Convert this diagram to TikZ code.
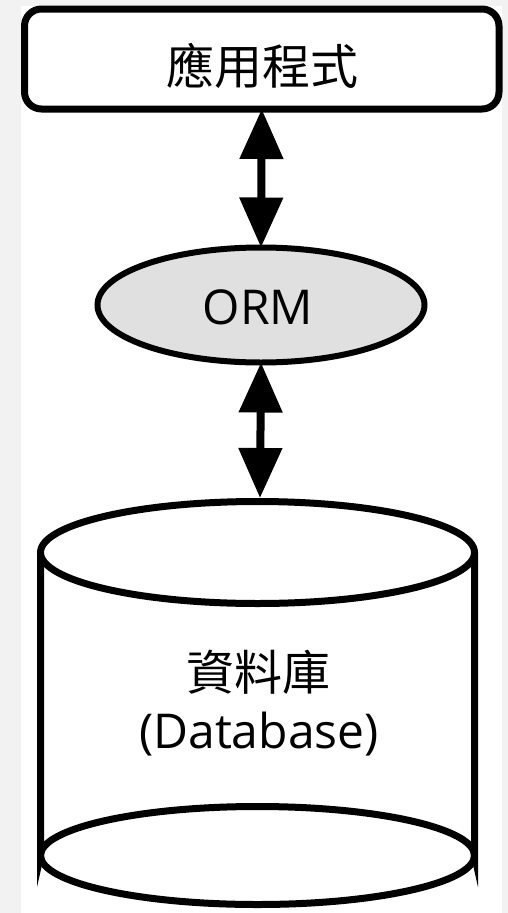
\documentclass[tikz,border=0pt]{standalone}
\usepackage{fontspec}
\setmainfont{Open Sans}
\newfontfamily\cjk{Noto Sans CJK TC}
\usetikzlibrary{arrows.meta,shapes.geometric}
\definecolor{bggray}{HTML}{F2F2F2}
\definecolor{ormfill}{HTML}{E0E0E0}
\tikzset{
  outline/.style={line width=7pt, draw=black},
  biarrow/.style={line width=8pt, {Triangle[length=50pt,width=42pt]}-{Triangle[length=50pt,width=42pt]}, shorten <=0pt, shorten >=0pt},
  cjktext/.style={font=\cjk\fontsize{48}{56}\selectfont, inner sep=0pt},
  lattext/.style={font=\fontsize{48}{56}\selectfont, inner sep=0pt}
}
\begin{document}
\begin{tikzpicture}[x=1pt,y=-1pt]
\useasboundingbox (0,0) rectangle (508,913);
\fill[bggray] (0,0) rectangle (508,913);
\fill[white] (21,6) rectangle (502,913);
% application box
\node[outline, rounded corners=17pt, minimum width=474.5pt, minimum height=100pt, inner sep=0pt, fill=white, outer sep=0pt] (app) at (261.75,59) {};
\node[cjktext] (apptext) at (262,66) {應用程式};
% ORM ellipse
\node[outline, line width=6pt, ellipse, fill=ormfill, minimum width=327pt, minimum height=115pt, inner sep=0pt, outer sep=0pt] (orm) at (261,305) {};
\node[lattext] (ormtext) at (258,307) {ORM};
% cylinder
\draw[outline, fill=white] (40.5,552.5) -- (40.5,855.5) arc[start angle=180, end angle=360, x radius=217, y radius=49] -- (474.5,552.5);
\draw[outline] (40.5,855.5) arc[start angle=180, end angle=0, x radius=217, y radius=49];
\draw[outline, fill=white] (257.5,552.5) ellipse[x radius=217, y radius=51];
\node[inner sep=0pt, minimum width=441pt, minimum height=4pt, anchor=north] (db) at (260,498) {};
\node[cjktext] (dbtext1) at (258,672) {資料庫};
\node[lattext] (dbtext2) at (259,734) {(Database)};
% arrows
\draw[biarrow] (app.south) -- (orm.north);
\draw[biarrow] (orm.south) -- (db.north);
\end{tikzpicture}
\end{document}
